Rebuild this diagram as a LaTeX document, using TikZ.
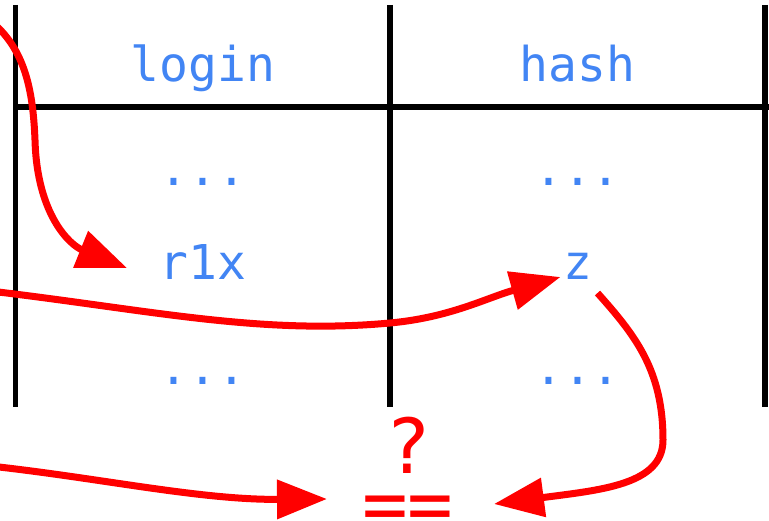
\documentclass[tikz,border=0pt]{standalone}
\usepackage{fontspec}
\newfontfamily\monofont{DejaVu Sans Mono}
\usetikzlibrary{arrows.meta}
\definecolor{cellblue}{RGB}{66,133,244}
\definecolor{hotred}{RGB}{255,0,0}
\tikzset{
  grid/.style={line width=5.5pt, black},
  cell/.style={font=\monofont\fontsize{48}{48}\selectfont, text=cellblue, inner sep=0pt, anchor=base},
  redtxt/.style={font=\monofont\fontsize{76}{76}\selectfont, text=hotred, inner sep=0pt, anchor=base},
  arr/.style={line width=7pt, hotred, -{Triangle[length=50pt,width=38pt]}}
}
\begin{document}
\begin{tikzpicture}[x=1pt,y=-1pt]
\clip (0,0) rectangle (769,521);
\fill[white] (0,0) rectangle (769,521);
% grid
\draw[grid] (15.5,5) -- (15.5,407);
\draw[grid] (390,5) -- (390,407);
\draw[grid] (765,5) -- (765,407);
\draw[grid] (13,107) -- (769,107);
% cells
\node[cell] (login) at (203,82) {login};
\node[cell] (hash) at (577.5,82) {hash};
\node[cell] (d1) at (203,186) {...};
\node[cell] (d2) at (577.5,186) {...};
\node[cell] (r1x) at (203,280) {r1x};
\node[cell] (z) at (577.5,280) {z};
\node[cell] (d3) at (203,385) {...};
\node[cell] (d4) at (577.5,385) {...};
\node[redtxt] (q) at (408,473) {?};
\node[redtxt] (eq) at (408,530) {\raisebox{0pt}[\height][-18pt]{==}};
% free ends
\coordinate (a1) at (-8,22);
\coordinate (a2) at (-10,291);
\coordinate (a3) at (-10,466);
% connectors
\draw[arr] (a1) .. controls (25,50) and (33,90) .. (35,140)
  .. controls (37,215) and (70,245) .. ([shift={(-76,-12)}]r1x.base);
\draw[arr] (a2) .. controls (150,310) and (260,335) .. (390,323)
  .. controls (450,317.5) and (486,298) .. ([shift={(-17,-3)}]z.base);
\draw[arr] (a3) .. controls (100,478) and (200,500) .. ([shift={(-81,-31)}]eq.base);
\draw[arr] ([shift={(20,13)}]z.base) .. controls (635,335) and (663,370) .. (663,440)
  .. controls (663,485) and (600,490) .. ([shift={(86,-26)}]eq.base);
\end{tikzpicture}
\end{document}
